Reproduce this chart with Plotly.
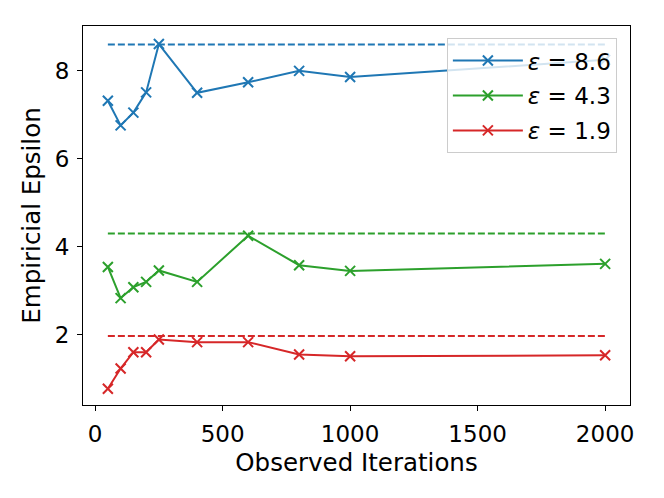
import plotly.graph_objects as go

# Observed iterations and empirical epsilon per target epsilon
iterations = [50, 100, 150, 200, 250, 400, 600, 800, 1000, 2000]
eps_86 = [7.32, 6.76, 7.05, 7.51, 8.61, 7.50, 7.74, 8.00, 7.86, 8.25]
eps_43 = [3.54, 2.83, 3.08, 3.20, 3.46, 3.20, 4.25, 3.58, 3.45, 3.61]
eps_19 = [0.77, 1.23, 1.60, 1.60, 1.89, 1.83, 1.83, 1.55, 1.51, 1.53]

targets = [8.6, 4.3, 1.97]
labels = ["<i>ε</i> = 8.6", "<i>ε</i> = 4.3", "<i>ε</i> = 1.9"]
colors = ["#1f77b4", "#2ca02c", "#d62728"]
series = [eps_86, eps_43, eps_19]

fig = go.Figure()
for vals, tgt, lab, col in zip(series, targets, labels, colors):
    fig.add_trace(go.Scatter(x=[iterations[0], iterations[-1]], y=[tgt, tgt], mode="lines",
                             line=dict(color=col, width=2, dash="7px,3px"),
                             showlegend=False, hoverinfo="skip"))
for i, (vals, lab, col) in enumerate(zip(series, labels, colors)):
    fig.add_trace(go.Scatter(x=iterations, y=vals, mode="lines+markers", name=lab,
                             legendgroup=f"g{i}",
                             line=dict(color=col, width=2),
                             marker=dict(symbol="x-thin", size=10,
                                         line=dict(color=col, width=2))))

axis_style = dict(showline=True, linecolor="black", linewidth=1, mirror=True,
                  showgrid=False, zeroline=False, ticks="outside", ticklen=5,
                  tickcolor="black", automargin=False, ticklabelstandoff=3,
                  tickfont=dict(size=23, color="black"))
fig.update_layout(
    width=664, height=498,
    margin=dict(l=75, r=42, t=18, b=101),
    paper_bgcolor="white", plot_bgcolor="white",
    font=dict(family="DejaVu Sans", size=23, color="black"),
    xaxis=dict(title=dict(text="Observed Iterations", standoff=8, font=dict(size=24.5)),
               range=[-47.5, 2097.5], tickvals=[0, 500, 1000, 1500, 2000], **axis_style),
    yaxis=dict(title=dict(text="Empiricial Epsilon", standoff=7, font=dict(size=24.5)),
               range=[0.4, 9.02], tickvals=[2, 4, 6, 8], **axis_style),
    legend=dict(x=0.976, y=0.968, xanchor="right", yanchor="top", tracegroupgap=2,
                itemwidth=70,
                bgcolor="rgba(255,255,255,0.8)", bordercolor="#cccccc", borderwidth=1,
                font=dict(size=23)),
)

fig.write_html("out.html")
